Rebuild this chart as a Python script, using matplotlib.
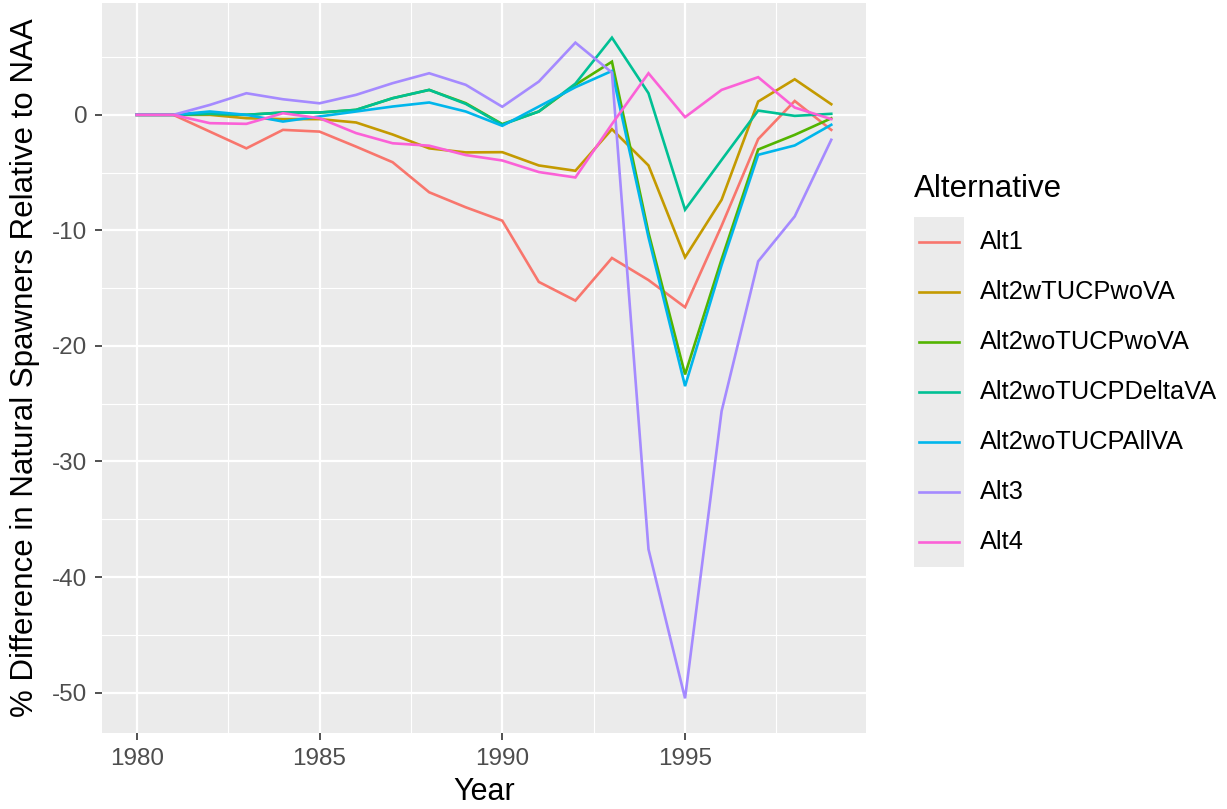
import matplotlib
matplotlib.use('Agg')
import matplotlib.pyplot as plt
from matplotlib.lines import Line2D
from matplotlib.patches import Rectangle
import numpy as np

plt.rcParams['font.family'] = ['Liberation Sans', 'DejaVu Sans']
plt.rcParams['axes.unicode_minus'] = False

# data
years = list(range(1980, 2000))
alternatives = ['Alt1', 'Alt2wTUCPwoVA', 'Alt2woTUCPwoVA', 'Alt2woTUCPDeltaVA',
                'Alt2woTUCPAllVA', 'Alt3', 'Alt4']

alt1 = [0, 0, -1.45, -2.9, -1.3, -1.45, -2.75, -4.1, -6.7, -8.0,
        -9.16, -14.46, -16.08, -12.39, -14.3, -16.65, -9.6, -2.1, 1.2, -1.3]
alt2w_wova = [0, 0, 0, -0.29, -0.37, -0.37, -0.66, -1.7, -2.9, -3.25,
              -3.23, -4.38, -4.84, -1.24, -4.38, -12.33, -7.35, 1.15, 3.08, 0.92]
alt2wo_wova = [0, 0, 0.09, 0, 0.2, 0.2, 0.43, 1.44, 2.16, 1.01,
               -0.8, 0.29, 2.6, 4.6, -10.2, -22.47, -12.5, -3.0, -1.73, -0.3]
alt2wo_delta = [0, 0, 0.09, 0, 0.2, 0.2, 0.43, 1.44, 2.16, 0.95,
                -0.85, 0.29, 2.7, 6.68, 1.87, -8.21, -3.9, 0.37, -0.09, 0.09]
alt2wo_all = [0, 0, 0.29, 0, -0.58, -0.14, 0.29, 0.72, 1.07, 0.29,
              -0.95, 0.72, 2.39, 3.8, -10.6, -23.48, -13.0, -3.46, -2.65, -0.86]
alt3 = [0, 0, 0.86, 1.87, 1.35, 1.0, 1.73, 2.74, 3.6, 2.6,
        0.7, 2.88, 6.25, 3.66, -37.6, -50.5, -25.64, -12.68, -8.79, -2.16]
alt4 = [0, 0, -0.72, -0.78, 0.14, -0.29, -1.58, -2.46, -2.67, -3.48,
        -3.95, -4.95, -5.42, -0.8, 3.6, -0.2, 2.16, 3.26, 0.63, -0.37]

series = [alt1, alt2w_wova, alt2wo_wova, alt2wo_delta, alt2wo_all, alt3, alt4]
colors = ['#F8766D', '#C49A00', '#53B400', '#00C094', '#00B6EB', '#A58AFF', '#FB61D7']

W, H = 1227, 809
fig = plt.figure(figsize=(W / 100, H / 100), dpi=100)
ax = fig.add_axes([102 / W, 1 - 733 / H, 764 / W, 730 / H])
ax.set_facecolor('#EBEBEB')

for vals, col in zip(series, colors):
    ax.plot(years, vals, color=col, lw=1.9, solid_joinstyle='miter')

ax.set_xlim(1979.05, 1999.95)
ax.set_ylim(-53.5, 9.68)
ax.set_xticks([1980, 1985, 1990, 1995])
ax.set_xticks([1982.5, 1987.5, 1992.5, 1997.5], minor=True)
ax.set_yticks([0, -10, -20, -30, -40, -50])
ax.set_yticks([5, -5, -15, -25, -35, -45], minor=True)
ax.grid(which='major', color='white', lw=1.6)
ax.grid(which='minor', color='white', lw=0.8)
ax.set_axisbelow(True)
for s in ax.spines.values():
    s.set_visible(False)
ax.tick_params(which='major', length=5, width=1.2, color='#333333',
               labelcolor='#4D4D4D', labelsize=17.5, pad=5.5)
ax.tick_params(which='minor', length=0)

ax.set_xlabel('Year', fontsize=22)
ax.set_ylabel('% Difference in Natural Spawners Relative to NAA', fontsize=22.5)
ax.xaxis.set_label_coords(0.5, (733 - 777) / 730)
ax.yaxis.set_label_coords((40 - 102) / 764, 0.5)

# legend, ggplot style
fig.text(914 / W, 1 - 197 / H, 'Alternative', fontsize=22.5, va='baseline', ha='left')
fig.add_artist(Rectangle((914 / W, 1 - 566.7 / H), 50 / W, 350 / H,
                         transform=fig.transFigure, facecolor='#EBEBEB', edgecolor='none'))
for i, (name, col) in enumerate(zip(alternatives, colors)):
    yc = 1 - (241.7 + 50 * i) / H
    fig.add_artist(Line2D([919 / W, 959 / W], [yc, yc], transform=fig.transFigure,
                          color=col, lw=1.9))
    fig.text(980 / W, yc, name, fontsize=18.3, va='center', ha='left')

fig.savefig('out.png', dpi=100)
